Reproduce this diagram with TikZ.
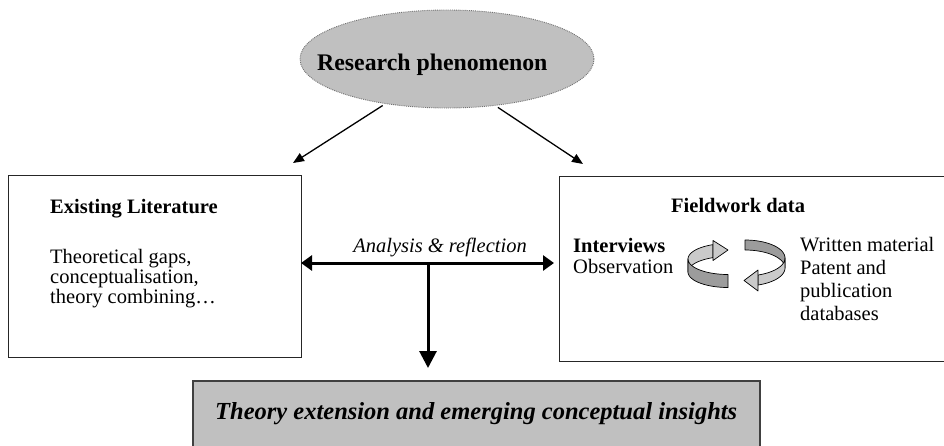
\documentclass[tikz,border=0pt]{standalone}
\usepackage{fontspec}
\setmainfont{Liberation Serif}
\usetikzlibrary{arrows.meta,shapes.geometric}
\definecolor{boxgray}{HTML}{C0C0C0}
\definecolor{ribbondark}{HTML}{9C9C9C}
\definecolor{ribbonlight}{HTML}{CACACA}
\begin{document}
\begin{tikzpicture}[x=1pt,y=-1pt,
  frame/.style={draw=black!85, line width=0.8pt, inner sep=0pt, outer sep=0pt},
  body/.style={anchor=base west, inner sep=0pt, font=\fontsize{20.5}{20}\selectfont},
  head/.style={anchor=base west, inner sep=0pt, font=\fontsize{20.5}{20}\selectfont\bfseries},
  thinarrow/.style={line width=1.3pt, -{Triangle[length=11pt,width=9pt]}, shorten <=3pt},
  thickarrow/.style={line width=3pt},
  ribbon/.style={draw=black, line width=0.7pt, line join=round}
]
\useasboundingbox (0,0) rectangle (944,445);

% the phenomenon ellipse
\node[ellipse, fill=boxgray, draw=black!55, densely dotted, line width=0.9pt,
      minimum width=294pt, minimum height=98pt, inner sep=0pt] (ell) at (447,59) {};
\node[anchor=base west, inner sep=0pt, font=\fontsize{23.8}{24}\selectfont\bfseries]
  (phen) at (317,70) {Research phenomenon};

% the three boxes
\node[frame, minimum width=293pt, minimum height=182pt] (lit) at (154.5,266) {};
\node[frame, minimum width=391pt, minimum height=185pt] (field) at (754.5,268.5) {};
\node[frame, fill=boxgray, draw=black!75, line width=1.2pt,
      minimum width=567pt, minimum height=67pt] (theory) at (476.5,414.5) {};

% literature box texts
\node[head] (litHead) at (50,213) {Existing Literature};
\node[body] (litA) at (50,263) {Theoretical gaps,};
\node[body] (litB) at (50,283) {conceptualisation,};
\node[body] (litC) at (50,303) {theory combining…};

% fieldwork box texts
\node[head] (fieldHead) at (671,212) {Fieldwork data};
\node[head] (interv) at (573,252) {Interviews};
\node[body] (observ) at (573,273) {Observation};
\node[body] (srcA) at (800,251) {Written material};
\node[body] (srcB) at (800,274) {Patent and};
\node[body] (srcC) at (800,297) {publication};
\node[body] (srcD) at (800,320) {databases};

% result box text and the analysis label
\node[anchor=base west, inner sep=0pt, font=\fontsize{24.5}{24}\selectfont\bfseries\itshape]
  (theoryText) at (215,419) {Theory extension and emerging conceptual insights};
\node[anchor=base, inner sep=0pt, font=\fontsize{20.5}{20}\selectfont\itshape]
  (analysis) at (440,252) {Analysis \& reflection};

% arrows from the phenomenon to both sources
\coordinate (litTip) at (293,163);
\coordinate (fieldTip) at (583,164);
\draw[thinarrow] (ell.216) -- (litTip);
\draw[thinarrow] (ell.316) -- (fieldTip);

% analysis between literature and fieldwork, leading to theory
\coordinate (hub) at (428,263);
\draw[thickarrow, {Triangle[length=11pt,width=15pt]}-{Triangle[length=11pt,width=15pt]}, shorten >=5pt]
  (lit.east |- hub) -- (field.west |- hub);
\draw[thickarrow, -{Triangle[length=17pt,width=17pt]}, shorten >=13pt]
  (hub) -- (hub |- theory.north);

% cycle arrows: left ribbon, inner face then outer face
\filldraw[ribbon, fill=ribbonlight]
  plot[domain=112:180, samples=24] ({728+40*cos(\x)},{259-15.5*sin(\x)})
  -- plot[domain=180:112, samples=24] ({728+40*cos(\x)},{272-15.5*sin(\x)}) -- cycle;
\filldraw[ribbon, fill=ribbonlight] (713,240.5) -- (728,250) -- (713,260.5) -- cycle;
\filldraw[ribbon, fill=ribbondark]
  plot[domain=180:270, samples=24] ({728+40*cos(\x)},{259-15.5*sin(\x)})
  -- plot[domain=270:180, samples=24] ({728+40*cos(\x)},{272-15.5*sin(\x)}) -- cycle;

% right ribbon, outer face on top, inner face below with the head
\filldraw[ribbon, fill=ribbondark]
  plot[domain=90:0, samples=24] ({745+40*cos(\x)},{258-18*sin(\x)})
  -- plot[domain=0:90, samples=24] ({745+40*cos(\x)},{268-18*sin(\x)}) -- cycle;
\filldraw[ribbon, fill=ribbonlight]
  plot[domain=0:-71, samples=24] ({745+40*cos(\x)},{258-18*sin(\x)})
  -- plot[domain=-71:0, samples=24] ({745+40*cos(\x)},{268-18*sin(\x)}) -- cycle;
\filldraw[ribbon, fill=ribbonlight] (758,270) -- (744,280.5) -- (758,291) -- cycle;
\end{tikzpicture}
\end{document}
